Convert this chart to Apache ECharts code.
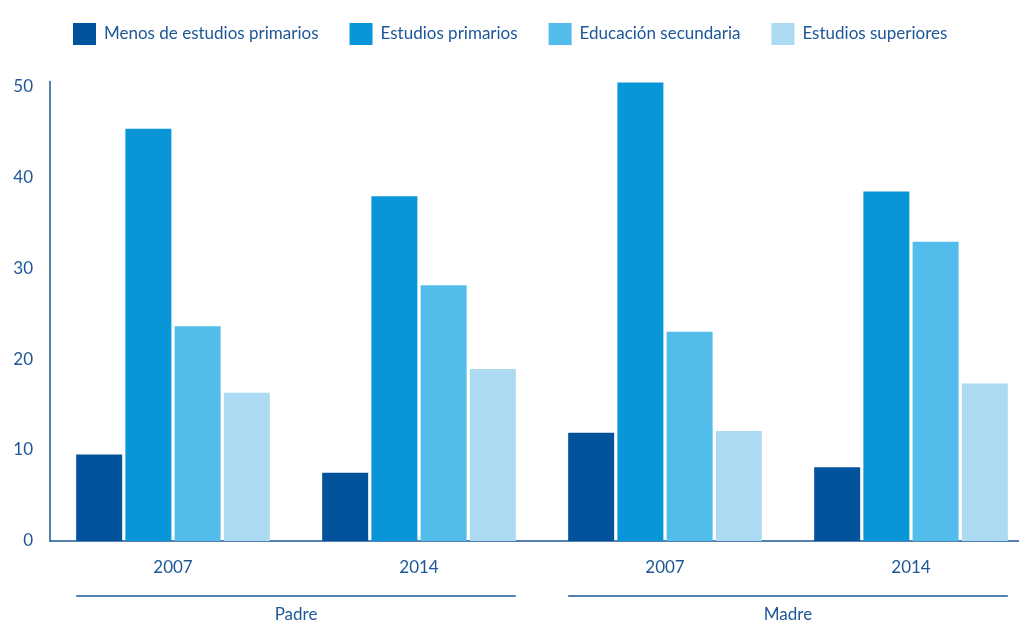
<!DOCTYPE html>
<html>
<head>
<meta charset="utf-8">
<script src="https://cdn.jsdelivr.net/npm/echarts@6/dist/echarts.min.js"></script>
<style>
  html, body { margin: 0; padding: 0; background: #fff; }
  #chart { width: 1019px; height: 622px; }
</style>
</head>
<body>
<div id="chart"></div>
<script>
var chart = echarts.init(document.getElementById('chart'));

var years = ['2007', '2014', '2007', '2014'];
var parents = ['Padre', 'Madre'];
var names = ['Menos de estudios primarios', 'Estudios primarios', 'Educación secundaria', 'Estudios superiores'];
var colors = ['#03529c', '#0896d8', '#52bcea', '#acdaf3'];
var menos = [9.5, 7.5, 11.9, 8.1];
var primarios = [45.3, 37.9, 50.4, 38.4];
var secundaria = [23.6, 28.1, 23.0, 32.9];
var superiores = [16.3, 18.9, 12.1, 17.3];
var values = [menos, primarios, secundaria, superiores];

var textColor = '#1d5797';
var font = 'Lato';

var option = {
  animation: false,
  color: colors,
  textStyle: { fontFamily: font },
  legend: {
    top: 18,
    left: 68,
    itemWidth: 23,
    itemHeight: 22,
    itemGap: 31,
    icon: 'rect',
    textStyle: { color: textColor, fontSize: 17, fontFamily: font, padding: [0, 0, 0, 3] },
    data: names
  },
  grid: { left: 50, right: -15, top: 81.5, bottom: 81, outerBoundsMode: 'none' },
  xAxis: [{
    type: 'category',
    data: years,
    axisLine: { lineStyle: { color: '#1d5797', width: 1.5 } },
    axisTick: { show: false },
    axisLabel: { color: textColor, fontSize: 17, margin: 18, fontFamily: font }
  }, {
    type: 'category',
    data: parents,
    position: 'bottom',
    offset: 60,
    axisLine: { show: false },
    axisTick: { show: false },
    axisLabel: { color: textColor, fontSize: 17, margin: 5, fontFamily: font }
  }],
  yAxis: {
    type: 'value',
    min: 0,
    max: 50.5,
    interval: 10,
    axisLine: { show: true, lineStyle: { color: '#1d5797', width: 1.5 } },
    axisTick: { show: false },
    splitLine: { show: false },
    axisLabel: {
      color: textColor, fontSize: 17, margin: 17, fontFamily: font,
      formatter: function (v) { return v % 10 === 0 ? String(v) : ''; }
    }
  },
  series: names.map(function (n, i) {
    return {
      name: n,
      type: 'bar',
      barWidth: 46,
      barGap: '7%',
      data: values[i]
    };
  })
};
chart.setOption(option);

// brackets under the year labels, one per parent group
var half = 2 * 46 + 1.5 * 46 * 0.07;
var lines = [];
for (var g = 0; g < 2; g++) {
  var x0 = chart.convertToPixel({ xAxisIndex: 0 }, 2 * g);
  var x1 = chart.convertToPixel({ xAxisIndex: 0 }, 2 * g + 1);
  lines.push({
    type: 'line',
    shape: { x1: x0 - half, y1: 596, x2: x1 + half, y2: 596 },
    style: { stroke: '#1d5797', lineWidth: 1.5 }
  });
}
chart.setOption({ graphic: lines });
</script>
</body>
</html>
